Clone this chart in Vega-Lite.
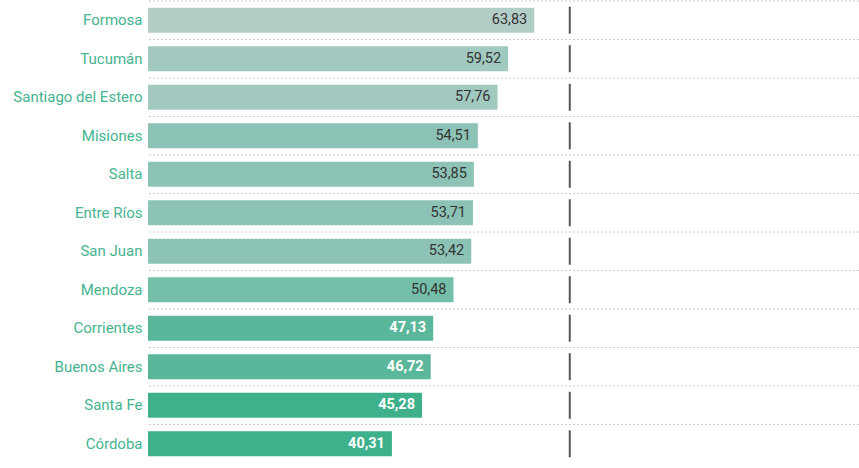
{
  "$schema": "https://vega.github.io/schema/vega-lite/v6.json",
  "width": 711,
  "height": 462,
  "autosize": {"type": "none"},
  "padding": {"left": 148, "top": 1, "right": 0, "bottom": 5},
  "config": {
    "view": {"stroke": null},
    "font": "Roboto",
    "locale": {"number": {"decimal": ",", "thousands": ".", "grouping": [3], "currency": ["$", ""]}}
  },
  "data": {
    "values": [
      {"provincia": "Formosa", "valor": 63.83, "ref": 69.7},
      {"provincia": "Tucumán", "valor": 59.52, "ref": 69.7},
      {"provincia": "Santiago del Estero", "valor": 57.76, "ref": 69.7},
      {"provincia": "Misiones", "valor": 54.51, "ref": 69.7},
      {"provincia": "Salta", "valor": 53.85, "ref": 69.7},
      {"provincia": "Entre Ríos", "valor": 53.71, "ref": 69.7},
      {"provincia": "San Juan", "valor": 53.42, "ref": 69.7},
      {"provincia": "Mendoza", "valor": 50.48, "ref": 69.7},
      {"provincia": "Corrientes", "valor": 47.13, "ref": 69.7},
      {"provincia": "Buenos Aires", "valor": 46.72, "ref": 69.7},
      {"provincia": "Santa Fe", "valor": 45.28, "ref": 69.7},
      {"provincia": "Córdoba", "valor": 40.31, "ref": 69.7}
    ]
  },
  "encoding": {
    "y": {
      "field": "provincia",
      "type": "nominal",
      "sort": {"field": "valor", "order": "descending"},
      "scale": {"paddingInner": 0.35, "paddingOuter": 0.175},
      "axis": {
        "title": null,
        "domain": false,
        "ticks": false,
        "labelPadding": 6,
        "labelFontSize": 15,
        "labelColor": "#45b48f",
        "labelFont": "Roboto"
      }
    }
  },
  "layer": [
    {
      "mark": {"type": "rule", "stroke": "#cccccc", "strokeWidth": 1, "strokeDash": [2, 2], "yOffset": -19.25},
      "encoding": {
        "y": {"field": "provincia", "type": "nominal", "sort": {"field": "valor", "order": "descending"}, "bandPosition": 0.5}
      }
    },
    {
      "mark": {"type": "bar"},
      "encoding": {
        "x": {"field": "valor", "type": "quantitative", "scale": {"domain": [0, 117.5], "nice": false, "zero": true}, "axis": null},
        "color": {
          "field": "valor",
          "type": "quantitative",
          "scale": {"type": "threshold", "domain": [46, 50, 53, 57, 63], "range": ["#3eb08b", "#5bb79b", "#74bfa9", "#8cc3b6", "#a1c9bf", "#b3cdc7"]},
          "legend": null
        }
      }
    },
    {
      "mark": {"type": "tick", "color": "#555555", "thickness": 2, "size": 27, "opacity": 1},
      "encoding": {
        "x": {"field": "ref", "type": "quantitative"}
      }
    },
    {
      "transform": [{"filter": "datum.valor > 48"}],
      "mark": {"type": "text", "align": "right", "baseline": "middle", "dx": -7, "fontSize": 14.5, "font": "Roboto", "color": "#333333"},
      "encoding": {
        "x": {"field": "valor", "type": "quantitative"},
        "text": {"field": "valor", "type": "quantitative", "format": ".2f"}
      }
    },
    {
      "transform": [{"filter": "datum.valor <= 48"}],
      "mark": {"type": "text", "align": "right", "baseline": "middle", "dx": -7, "fontSize": 14.5, "font": "Roboto", "fontWeight": "bold", "color": "#ffffff"},
      "encoding": {
        "x": {"field": "valor", "type": "quantitative"},
        "text": {"field": "valor", "type": "quantitative", "format": ".2f"}
      }
    }
  ]
}
